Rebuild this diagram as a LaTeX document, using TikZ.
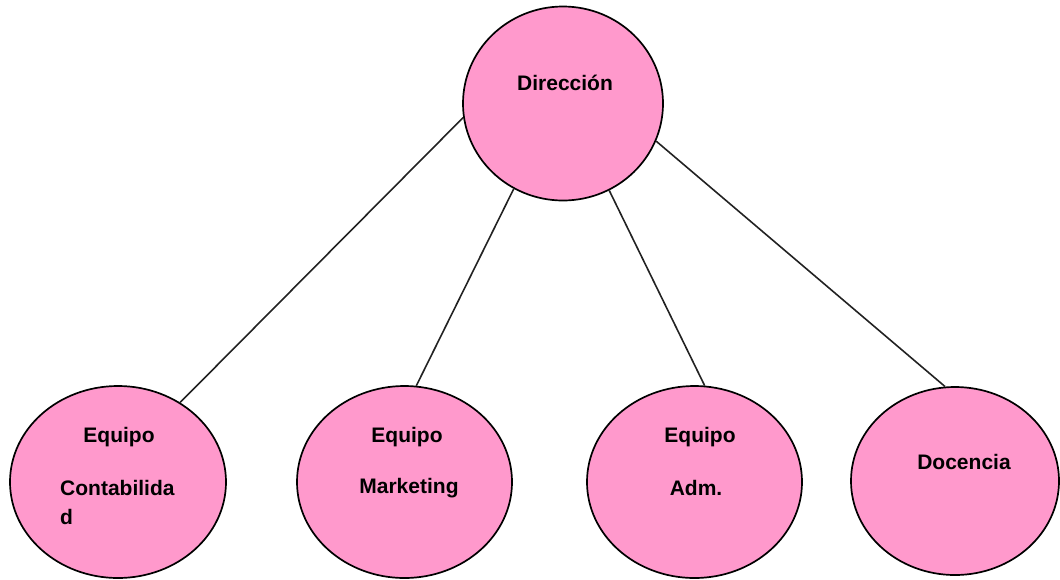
\documentclass[tikz,border=0pt]{standalone}
\usepackage{fontspec}
\setmainfont{Liberation Sans}
\usetikzlibrary{shapes.geometric}
\definecolor{pinkfill}{HTML}{FF99CC}
\definecolor{edgecol}{HTML}{222222}
\begin{document}
\begin{tikzpicture}[x=1pt,y=-1pt,
  bubble/.style={ellipse, draw=black, line width=1.7pt, fill=pinkfill, inner sep=0pt},
  lbl/.style={font=\fontsize{21}{24}\selectfont\bfseries, inner sep=0pt, anchor=center},
  link/.style={draw=edgecol, line width=1.6pt}]
\useasboundingbox (0,0) rectangle (1060,579);
\node[bubble, minimum width=200pt, minimum height=194pt] (dir) at (563,103.5) {};
\node[bubble, minimum width=216pt, minimum height=192pt] (e1) at (118,482) {};
\node[bubble, minimum width=215pt, minimum height=192pt] (e2) at (404.5,482) {};
\node[bubble, minimum width=215pt, minimum height=192pt] (e3) at (694.5,482) {};
\node[bubble, minimum width=208pt, minimum height=188pt] (e4) at (955,481) {};

\node[lbl] (tdir) at (565,83) {Dirección};
\node[lbl] (t1a) at (119,437) {Equipo};
\node[lbl, anchor=west] (t1b) at (60,488) {Contabilida};
\node[lbl, anchor=west] (t1c) at (60,517) {d};
\node[lbl] (t2a) at (407,437) {Equipo};
\node[lbl] (t2b) at (409,488) {Marketing};
\node[lbl] (t3a) at (700,437) {Equipo};
\node[lbl] (t3b) at (696,488) {Adm.};
\node[lbl] (t4a) at (964,462) {Docencia};

\draw[link] (dir.188) -- (e1.52);
\draw[link] (dir.240) -- (e2.83);
\draw[link] (dir.298) -- (e3.84);
\draw[link] (dir.338) -- (e4.96);
\end{tikzpicture}
\end{document}
